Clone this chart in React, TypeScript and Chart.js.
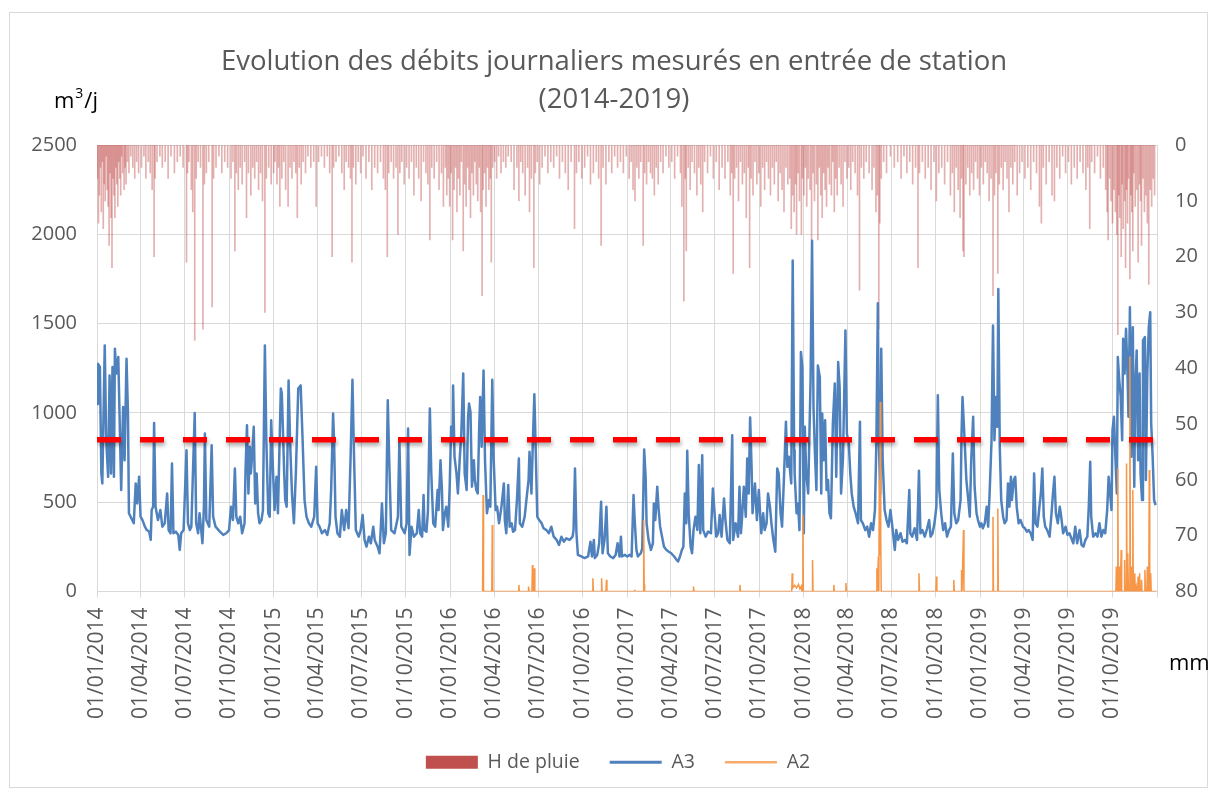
import React, { useEffect, useRef } from "react";
import { Chart, registerables } from "chart.js";

Chart.register(...registerables);

// ---------- DATA ----------
const TITLE_LINES = ["Evolution des débits journaliers mesurés en entrée de station", "(2014-2019)"];
const START_DATE = "01/01/2014";
const END_DATE = "01/01/2020";
const QUARTER_LABELS = [
  "01/01/2014", "01/04/2014", "01/07/2014", "01/10/2014",
  "01/01/2015", "01/04/2015", "01/07/2015", "01/10/2015",
  "01/01/2016", "01/04/2016", "01/07/2016", "01/10/2016",
  "01/01/2017", "01/04/2017", "01/07/2017", "01/10/2017",
  "01/01/2018", "01/04/2018", "01/07/2018", "01/10/2018",
  "01/01/2019", "01/04/2019", "01/07/2019", "01/10/2019",
];
const Y_LEFT_TICKS = [0, 500, 1000, 1500, 2000, 2500];
const Y_RIGHT_TICKS = [0, 10, 20, 30, 40, 50, 60, 70, 80];
const THRESHOLD = 850;

// [day since 01/01/2014, m3/j]
const A3: [number, number][] = [
  [0,1050],[2,1275],[6,1257],[9,661],[11,605],[16,1378],[19,847],[23,642],[26,1210],[29,661],[32,1257],[35,642],[37,1359],[40,1220],[44,1313],[47,940],[50,568],[54,1033],[57,735],[61,1303],[64,996],[66,438],[71,410],[76,382],[80,605],[83,493],[87,642],[90,419],[94,400],[99,363],[103,344],[108,335],[111,289],[113,456],[116,475],[118,944],[121,475],[126,400],[131,456],[135,363],[140,382],[145,549],[148,344],[152,326],[155,717],[158,326],[163,335],[168,317],[171,233],[174,326],[179,344],[185,791],[188,382],[192,344],[195,363],[202,1000],[205,382],[209,326],[212,438],[218,270],[221,475],[223,884],[226,400],[232,363],[237,819],[240,419],[245,363],[254,335],[261,317],[267,326],[273,344],[277,475],[281,400],[285,689],[288,419],[292,382],[296,419],[300,326],[305,382],[307,680],[310,931],[313,549],[316,810],[318,661],[321,773],[324,922],[327,493],[330,661],[333,438],[336,382],[340,400],[343,456],[347,1378],
  [350,847],[354,438],[357,419],[360,959],[364,661],[367,456],[371,642],[374,438],[380,1136],[382,1108],[387,661],[389,512],[392,475],[396,1182],[399,847],[403,549],[407,382],[411,661],[416,1136],[421,1154],[425,847],[429,512],[433,419],[438,382],[443,363],[449,419],[453,698],[456,382],[460,363],[465,326],[471,344],[476,317],[481,382],[484,568],[488,996],[490,847],[493,419],[497,326],[502,307],[506,456],[511,344],[515,456],[520,354],[524,735],[528,1186],[531,791],[535,344],[541,307],[545,344],[549,428],[553,289],[557,251],[562,307],[566,270],[571,363],[574,289],[580,251],[584,214],[589,493],[593,270],[597,326],[601,1071],[604,735],[608,344],[615,326],[622,419],[625,847],[629,363],[636,326],[640,382],[643,912],[646,205],[650,363],[655,307],[661,326],[665,456],[668,326],[672,307],[675,540],[677,344],[681,335],[684,447],[688,1024],[691,661],[695,382],[699,363],[704,568],[706,456],[710,735],[713,568],
  [715,344],[719,438],[722,475],[726,363],[729,587],[732,922],[735,847],[736,1154],[739,754],[743,661],[746,549],[750,754],[753,884],[757,1220],[760,661],[764,568],[767,978],[769,1052],[772,1005],[775,587],[779,735],[781,624],[784,568],[787,549],[790,922],[792,1089],[795,810],[799,1238],[802,735],[806,438],[810,512],[813,475],[817,1186],[820,735],[824,456],[827,475],[831,382],[836,475],[841,605],[843,400],[846,326],[850,596],[853,363],[857,382],[860,335],[864,344],[868,512],[872,745],[874,382],[879,363],[884,419],[889,549],[892,624],[894,782],[898,549],[901,847],[904,1104],[907,773],[910,419],[914,400],[919,382],[923,354],[929,344],[934,326],[939,363],[944,307],[950,289],[955,261],[960,307],[965,279],[970,298],[977,289],[983,307],[985,344],[988,689],[991,326],[994,205],[1001,196],[1008,187],[1015,196],[1020,279],[1023,196],[1027,289],[1029,187],[1034,205],[1038,270],[1042,503],[1045,214],[1049,289],[1053,475],[1056,214],[1061,196],[1067,187],[1072,205],[1076,270],[1080,196],
  [1083,307],[1085,196],[1091,205],[1096,196],[1101,205],[1105,196],[1109,540],[1111,419],[1115,233],[1118,196],[1124,214],[1127,242],[1131,795],[1134,642],[1136,382],[1140,289],[1145,233],[1149,270],[1151,493],[1154,400],[1158,587],[1161,456],[1164,363],[1168,307],[1172,251],[1177,233],[1182,223],[1187,214],[1193,196],[1198,177],[1201,168],[1205,196],[1209,233],[1212,251],[1215,549],[1218,382],[1220,788],[1223,438],[1227,251],[1230,214],[1233,344],[1237,419],[1241,344],[1244,708],[1247,326],[1251,763],[1253,344],[1258,307],[1263,335],[1269,326],[1273,577],[1277,419],[1280,307],[1284,326],[1287,428],[1291,307],[1296,521],[1299,400],[1303,289],[1308,270],[1313,875],[1315,289],[1320,382],[1325,307],[1328,587],[1331,326],[1333,400],[1337,587],[1341,419],[1344,745],[1347,549],[1350,974],[1353,698],[1355,438],[1360,605],[1364,400],[1368,568],[1371,419],[1373,326],[1377,438],[1380,344],[1384,382],[1387,549],[1391,475],[1394,382],[1398,289],[1402,223],[1406,689],[1409,661],[1413,438],[1416,363],[1420,642],[1424,950],[1427,698],[1430,754],[1433,661],[1435,605],[1438,1853],[1441,791],
  [1442,661],[1446,438],[1449,493],[1452,344],[1455,1341],[1458,1257],[1461,326],[1463,922],[1466,661],[1470,549],[1475,1192],[1478,1964],[1481,1033],[1484,773],[1487,568],[1490,1266],[1494,1201],[1497,549],[1499,996],[1502,735],[1505,959],[1508,568],[1511,624],[1514,438],[1517,410],[1521,940],[1525,1164],[1528,642],[1532,1285],[1535,1145],[1538,549],[1542,754],[1547,1462],[1550,884],[1554,829],[1557,661],[1560,549],[1564,475],[1568,438],[1573,382],[1577,950],[1579,400],[1583,382],[1588,344],[1592,363],[1596,307],[1600,382],[1604,344],[1608,456],[1611,847],[1614,1614],[1616,847],[1619,549],[1621,1359],[1624,735],[1628,456],[1632,400],[1636,363],[1640,456],[1644,363],[1649,233],[1652,344],[1656,289],[1661,326],[1665,279],[1670,289],[1674,270],[1679,568],[1681,326],[1685,307],[1690,354],[1695,289],[1699,676],[1702,326],[1706,344],[1711,307],[1716,354],[1720,400],[1723,307],[1727,326],[1731,382],[1735,475],[1738,1099],[1741,568],[1745,438],[1749,344],[1753,382],[1757,307],[1761,344],[1765,363],[1769,773],[1772,438],[1776,382],[1780,400],[1785,512],[1787,884],[1789,1089],[1793,866],[1797,624],[1801,512],[1804,419],
  [1807,735],[1811,978],[1814,587],[1818,438],[1821,400],[1825,363],[1828,382],[1831,354],[1835,382],[1839,475],[1842,363],[1845,549],[1849,847],[1852,1490],[1855,847],[1858,1089],[1861,922],[1863,1694],[1866,810],[1869,512],[1873,419],[1876,382],[1880,400],[1883,605],[1886,475],[1889,642],[1891,512],[1895,624],[1898,642],[1901,475],[1905,382],[1909,400],[1914,363],[1918,354],[1922,335],[1926,344],[1930,326],[1934,289],[1937,661],[1940,382],[1944,363],[1948,475],[1951,549],[1954,689],[1957,419],[1960,363],[1964,344],[1969,307],[1973,438],[1976,549],[1979,642],[1982,438],[1986,382],[1990,475],[1993,419],[1997,326],[2002,363],[2006,317],[2010,326],[2014,298],[2018,270],[2022,363],[2026,270],[2031,344],[2035,261],[2039,251],[2043,289],[2047,307],[2050,475],[2053,726],[2055,419],[2059,307],[2064,326],[2068,307],[2072,382],[2076,307],[2080,344],[2084,326],[2088,456],[2091,642],[2094,549],[2097,456],[2099,903],[2102,978],[2105,754],[2108,549],[2110,1313],[2113,1182],[2116,1089],[2119,847],[2121,1415],[2124,1220],[2127,1471],[2130,1220],[2132,978],[2135,1592],[2138,754],[2141,1480],[2144,587],[2146,1127],[2149,1350],[2152,735],[2155,1220],[2157,661],[2160,512],[2162,1406],[2166,1424],[2168,624],[2171,1220],[2174,1480],[2177,1564],[2179,940],[2182,754],[2185,512],[2188,484],
];

// [day since 01/01/2014, m3/j]
const A2: [number, number][] = [
  [797,0],[798,540],[799,0],[816,0],[817,372],[818,0],[871,0],[872,37],[873,0],[891,0],[892,28],[893,0],[899,0],[900,149],[901,0],[903,0],[904,130],[905,0],[1024,0],[1025,74],[1026,0],[1042,0],[1043,74],[1044,0],[1052,0],[1053,65],[1054,0],[1110,0],[1111,10],[1112,0],[1129,0],[1130,400],[1131,40],[1132,0],[1232,0],[1233,28],[1234,0],[1328,0],[1329,37],[1330,0],[1436,0],[1437,102],[1438,20],[1442,35],[1446,20],[1450,40],[1453,15],[1456,30],[1457,0],[1458,0],[1459,430],[1460,0],[1478,0],[1479,177],[1480,0],[1522,0],[1523,37],[1524,0],[1547,0],[1548,47],[1549,0],[1611,0],[1612,130],[1613,0],[1614,0],[1615,196],[1616,0],[1617,624],[1618,200],[1619,1061],[1620,300],[1621,0],[1698,0],[1699,102],[1700,0],[1734,0],[1735,84],[1736,0],[1770,0],[1771,65],[1772,0],[1786,0],[1787,121],[1788,0],[1790,0],[1791,344],[1792,0],[1851,0],[1852,419],[1853,0],[1861,0],[1862,465],[1863,0],[2106,0],[2107,140],[2108,0],[2109,0],[2110,689],[2111,0],[2113,0],[2114,140],[2115,0],[2116,0],[2117,233],[2118,0],[2123,0],[2124,177],[2125,0],[2127,0],[2128,717],[2129,0],[2130,0],[2131,214],[2132,0],[2134,0],[2135,1316],[2136,0],[2137,0],[2138,140],[2139,0],[2140,0],[2141,568],[2142,0],[2144,0],[2145,102],[2146,0],[2147,0],[2148,28],[2149,0],[2151,0],[2152,84],[2153,0],[2154,0],[2155,102],[2156,0],[2158,0],[2159,65],[2160,0],[2165,0],[2166,121],[2167,0],[2170,0],[2171,140],[2172,0],[2174,0],[2175,680],[2176,0],[2177,0],[2178,102],[2179,0],[2186,0],[2190,0],
];

// [day since 01/01/2014, mm]
const RAIN: [number, number][] = [
  [1,6],[3,14],[5,9],[7,4],[9,12],[11,3],[13,15],[15,7],[17,10],[19,2],[21,8],[23,11],[25,18],[27,5],[29,13],[31,22],[33,6],[35,9],[37,13],[39,4],[41,7],[43,11],[45,3],[47,6],[49,9],[51,2],[53,5],[56,8],[58,4],[60,7],[63,3],[66,5],[70,2],[74,4],[78,6],[82,3],[86,5],
  [92,4],[97,2],[101,6],[106,3],[110,5],[114,8],[118,20],[120,6],[124,3],[130,2],[135,4],[141,3],[147,6],[153,2],[160,5],[166,3],[172,2],[178,4],
  [185,21],[187,5],[190,3],[195,8],[198,12],[202,35],[205,6],[209,3],[214,4],[219,33],[222,7],[226,5],[231,3],[238,29],[241,6],[246,4],[252,2],[258,5],[264,3],[270,4],
  [277,6],[281,3],[285,19],[288,5],[292,8],[296,4],[300,7],[305,3],[309,13],[313,5],[318,9],[322,4],[326,6],[330,3],[334,8],[338,5],[342,10],[347,30],[350,6],[355,4],[360,7],
  [365,5],[368,3],[372,7],[375,4],[378,11],[382,6],[386,3],[390,8],[395,11],[399,4],[403,6],[407,3],[411,5],[414,13],[418,4],[422,7],[426,3],[431,5],[436,2],[442,4],[448,3],[453,11],[458,3],[464,2],[470,4],[476,2],[481,5],[486,20],[489,4],[494,3],[500,2],[506,5],[511,8],[515,3],[520,4],[524,6],[527,21],[530,4],[535,7],[540,3],[545,5],[550,2],[556,6],[562,3],[568,8],[574,4],[580,5],[586,3],[592,6],[596,8],[600,20],[603,5],[608,3],[613,6],[618,4],[622,16],[626,5],[630,3],[635,7],[640,4],[645,6],[650,3],[655,9],[660,4],[665,6],[670,10],[675,3],[680,5],[684,7],[688,17],[692,4],[697,6],[702,3],[707,8],[712,5],[716,11],
  [720,4],[723,9],[726,6],[729,11],[732,5],[735,17],[738,8],[741,4],[744,12],[747,6],[750,9],[753,3],[757,19],[760,7],[763,11],[766,4],[769,8],[772,13],[775,5],[778,9],[781,3],[784,7],[787,10],[790,4],[793,12],[796,27],[798,8],[801,5],[804,11],[807,4],[810,8],[813,6],[815,21],[818,4],[822,3],[826,6],[830,2],[835,5],[840,3],[845,4],[850,2],[856,3],[862,8],[868,4],[872,10],[876,3],[880,5],[885,9],[890,4],[894,12],[898,6],[903,22],[906,5],[910,3],[915,7],[920,4],[926,2],[932,5],[938,3],[944,4],[950,2],[956,6],[962,3],[968,5],[974,8],[980,3],[987,15],[991,5],[996,3],[1002,6],[1008,4],[1014,2],[1020,7],[1026,5],[1032,3],[1037,6],[1042,18],[1046,4],[1052,7],[1058,3],[1064,5],[1070,2],[1076,4],
  [1082,3],[1088,5],[1094,2],[1100,6],[1104,3],[1108,8],[1112,10],[1116,4],[1120,6],[1124,3],[1129,18],[1132,5],[1136,7],[1140,3],[1144,5],[1148,6],[1152,9],[1156,4],[1160,7],[1165,3],[1170,5],[1176,2],[1182,4],[1188,3],[1194,6],[1200,2],[1206,5],[1209,11],[1213,28],[1216,6],[1218,19],[1222,4],[1226,8],[1230,3],[1235,5],[1240,9],[1244,4],[1248,7],[1252,12],[1256,3],[1262,5],[1268,2],[1274,6],[1280,3],[1286,8],[1292,4],[1298,6],[1304,3],[1309,9],[1312,5],[1315,23],[1318,6],[1322,4],[1326,10],[1330,3],[1334,7],[1338,5],[1342,13],[1346,4],[1349,22],[1352,6],[1356,9],[1360,3],[1364,7],[1368,5],[1372,11],[1376,4],[1380,8],[1384,3],[1388,6],[1392,9],[1396,4],[1400,7],[1404,3],[1408,10],[1412,5],[1416,8],[1420,12],[1424,4],[1428,7],[1432,6],[1435,15],[1438,9],
  [1441,12],[1444,7],[1446,16],[1449,5],[1452,10],[1456,16],[1458,6],[1461,9],[1464,4],[1467,11],[1470,6],[1474,8],[1477,17],[1480,5],[1483,10],[1487,7],[1490,17],[1493,4],[1496,9],[1499,13],[1502,5],[1505,8],[1508,11],[1511,4],[1514,7],[1518,9],[1521,3],[1524,12],[1527,6],[1530,9],[1534,4],[1538,7],[1542,11],[1546,3],[1550,6],[1554,4],[1558,8],[1562,3],[1567,5],[1572,9],[1576,26],[1580,4],[1585,6],[1590,3],[1596,5],[1602,8],[1606,4],[1610,12],[1613,9],[1616,33],[1618,14],[1621,6],[1626,3],[1632,5],[1640,2],[1648,4],[1655,3],[1662,6],[1668,2],[1674,5],[1680,3],[1686,7],[1692,4],[1697,22],[1700,5],[1706,3],[1712,6],[1718,4],[1724,8],[1730,3],[1735,10],[1740,5],[1746,4],[1752,7],[1758,3],[1764,9],[1768,5],[1772,12],[1776,4],[1780,8],[1784,13],[1787,6],[1790,19],[1792,20],[1796,7],[1800,4],[1804,9],
  [1808,5],[1812,8],[1816,3],[1820,6],[1824,9],[1828,4],[1832,7],[1836,3],[1840,5],[1844,10],[1848,6],[1852,27],[1855,9],[1858,5],[1862,23],[1865,7],[1869,4],[1873,8],[1877,3],[1881,6],[1885,12],[1889,4],[1893,7],[1897,3],[1902,9],[1907,5],[1912,3],[1918,6],[1924,4],[1930,8],[1936,3],[1942,5],[1948,11],[1952,14],[1956,4],[1962,7],[1968,3],[1974,9],[1979,10],[1984,4],[1990,6],[1996,2],[2002,5],[2008,3],[2014,7],[2020,4],[2026,6],[2032,3],[2038,5],[2044,8],[2048,4],[2052,15],[2056,3],[2062,5],[2068,2],[2074,6],[2080,4],[2085,8],[2088,12],[2090,17],[2093,6],[2096,10],[2099,14],[2102,8],[2105,12],[2108,16],[2110,34],[2112,9],[2114,13],[2117,20],[2119,7],[2121,15],[2124,10],[2126,22],[2128,8],[2130,14],[2132,6],[2135,24],[2137,9],[2139,12],[2141,19],[2143,5],[2146,11],[2149,8],[2152,21],[2155,7],[2157,10],[2159,18],[2162,6],[2165,12],[2168,9],[2171,14],[2174,25],[2177,8],[2180,11],[2183,6],[2186,9],
];

// ---------- HELPERS ----------
const parseFr = (s: string) => {
  const [d, m, y] = s.split("/").map(Number);
  return Date.UTC(y, m - 1, d);
};
const DAY_MS = 86400000;
const toDay = (s: string) => Math.round((parseFr(s) - parseFr(START_DATE)) / DAY_MS);
const END_DAY = toDay(END_DATE);
const QUARTER_DAYS = QUARTER_LABELS.map(toDay);
const LABEL_BY_DAY: Record<number, string> = {};
QUARTER_LABELS.forEach((l, i) => (LABEL_BY_DAY[QUARTER_DAYS[i]] = l));
const TICK_DAYS = [...QUARTER_DAYS, END_DAY];

const FONT = '"Open Sans", "DejaVu Sans", sans-serif';
const GRAY = "#595959";
const GRID = "#D9D9D9";

const decorPlugin = {
  id: "decor",
  beforeDatasetDraw(chart: any, args: any) {
    if (args.index === 3) {
      const ctx = chart.ctx;
      ctx.save();
      ctx.shadowColor = "rgba(0,0,0,0.35)";
      ctx.shadowBlur = 4;
      ctx.shadowOffsetX = 1;
      ctx.shadowOffsetY = 3;
    }
  },
  afterDatasetDraw(chart: any, args: any) {
    if (args.index === 3) chart.ctx.restore();
  },
  afterDraw(chart: any) {
    const ctx = chart.ctx;
    ctx.save();
    ctx.strokeStyle = GRID;
    ctx.lineWidth = 1;
    ctx.strokeRect(9.5, 12.5, 1198, 775);
    ctx.fillStyle = GRAY;
    ctx.font = `27.5px ${FONT}`;
    ctx.textAlign = "center";
    ctx.textBaseline = "middle";
    ctx.fillText(TITLE_LINES[0], 614, 62);
    ctx.fillText(TITLE_LINES[1], 614, 100);
    ctx.fillStyle = "#000";
    ctx.textAlign = "left";
    ctx.textBaseline = "alphabetic";
    ctx.font = `22px ${FONT}`;
    ctx.fillText("m", 54, 108);
    const mw = ctx.measureText("m").width;
    ctx.font = `14px ${FONT}`;
    ctx.fillText("3", 54 + mw + 1, 98);
    const tw = ctx.measureText("3").width;
    ctx.font = `22px ${FONT}`;
    ctx.fillText("/j", 54 + mw + tw + 2, 108);
    ctx.fillText("mm", 1169, 670);
    ctx.restore();
  },
};

export default function App() {
  const ref = useRef<HTMLCanvasElement>(null);
  useEffect(() => {
    if (!ref.current) return;
    const chart = new Chart(ref.current, {
      data: {
        datasets: [
          {
            type: "bar",
            label: "H de pluie",
            data: RAIN.map(([x, y]) => ({ x, y })),
            backgroundColor: "rgba(192,80,77,0.45)",
            borderWidth: 0,
            barThickness: 1,
            yAxisID: "yR",
            order: 4,
          } as any,
          {
            type: "line",
            label: "A3",
            data: A3.map(([x, y]) => ({ x, y })),
            borderColor: "#4F81BD",
            borderWidth: 2.5,
            pointRadius: 0,
            tension: 0,
            borderJoinStyle: "round",
            yAxisID: "y",
            order: 2,
          },
          {
            type: "line",
            label: "A2",
            data: A2.map(([x, y]) => ({ x, y })),
            borderColor: "#F79646",
            borderWidth: 1.5,
            pointRadius: 0,
            tension: 0,
            yAxisID: "y",
            order: 1,
          },
          {
            type: "line",
            label: "seuil",
            data: [{ x: 0, y: THRESHOLD }, { x: END_DAY, y: THRESHOLD }],
            borderColor: "#FF0000",
            borderWidth: 5.5,
            borderDash: [24, 19],
            borderCapStyle: "butt",
            pointRadius: 0,
            yAxisID: "y",
            order: 0,
          },
        ],
      },
      options: {
        responsive: false,
        animation: false,
        layout: { padding: { top: 145, left: 20, right: 0, bottom: 12 } },
        plugins: {
          title: { display: false },
          tooltip: { enabled: false },
          legend: {
            position: "bottom",
            labels: {
              usePointStyle: true,
              pointStyleWidth: 52,
              boxHeight: 13,
              padding: 30,
              color: GRAY,
              font: { family: FONT, size: 19.5 },
              generateLabels: () => [
                { text: "H de pluie", fillStyle: "#C0504D", strokeStyle: "#C0504D", lineWidth: 0, pointStyle: "rect", fontColor: GRAY, datasetIndex: 0, hidden: false },
                { text: "A3", fillStyle: "#4F81BD", strokeStyle: "#4F81BD", lineWidth: 3, pointStyle: "line", fontColor: GRAY, datasetIndex: 1, hidden: false },
                { text: "A2", fillStyle: "#F8AB6B", strokeStyle: "#F8AB6B", lineWidth: 2.5, pointStyle: "line", fontColor: GRAY, datasetIndex: 2, hidden: false },
              ] as any,
            },
          },
        },
        scales: {
          x: {
            type: "linear",
            offset: false,
            min: 0,
            max: END_DAY,
            afterBuildTicks: (scale: any) => {
              scale.ticks = TICK_DAYS.map((v) => ({ value: v }));
            },
            afterFit: (scale: any) => {
              scale.height = 131;
            },
            ticks: {
              autoSkip: false,
              maxRotation: 90,
              minRotation: 90,
              padding: 10,
              color: GRAY,
              font: { family: FONT, size: 21 },
              callback: (v: any) => LABEL_BY_DAY[v as number] ?? "",
            },
            grid: { offset: false, color: GRID, lineWidth: 1, tickLength: 6, drawTicks: true },
            border: { color: GRID, width: 1 },
          },
          y: {
            type: "linear",
            position: "left",
            min: Y_LEFT_TICKS[0],
            max: Y_LEFT_TICKS[Y_LEFT_TICKS.length - 1],
            afterBuildTicks: (scale: any) => {
              scale.ticks = Y_LEFT_TICKS.map((v) => ({ value: v }));
            },
            afterFit: (scale: any) => {
              scale.width = 77;
            },
            ticks: { color: GRAY, padding: 20, font: { family: FONT, size: 20 }, callback: (v: any) => String(v) },
            grid: { color: GRID, lineWidth: 1, drawTicks: false },
            border: { display: false },
          },
          yR: {
            type: "linear",
            position: "right",
            reverse: true,
            min: Y_RIGHT_TICKS[0],
            max: Y_RIGHT_TICKS[Y_RIGHT_TICKS.length - 1],
            afterBuildTicks: (scale: any) => {
              scale.ticks = Y_RIGHT_TICKS.map((v) => ({ value: v }));
            },
            afterFit: (scale: any) => {
              scale.width = 59;
            },
            ticks: { color: GRAY, padding: 10, font: { family: FONT, size: 20 }, callback: (v: any) => String(v) },
            grid: { display: false },
            border: { display: false },
          },
        },
      } as any,
      plugins: [decorPlugin],
    });
    return () => chart.destroy();
  }, []);
  return (
    <div style={{ position: "absolute", left: 0, top: 0, width: 1216, height: 794, background: "#fff" }}>
      <canvas ref={ref} width={1216} height={794} />
    </div>
  );
}
